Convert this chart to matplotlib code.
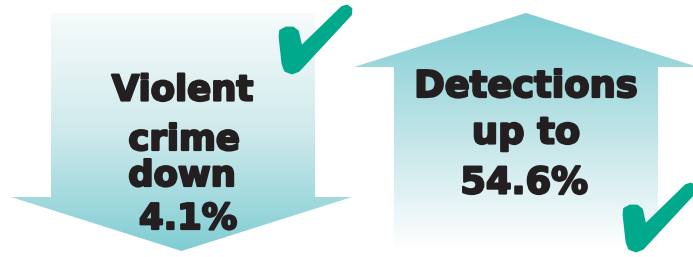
import numpy as np
import matplotlib.pyplot as plt
import matplotlib.patheffects as pe
from matplotlib.patches import Polygon
from matplotlib.colors import LinearSegmentedColormap

# figures shown on the two arrows
directions = ['down', 'up']
changes = [4.1, 54.6]
left_lines = ['Violent', 'crime', 'down', '4.1%']
right_lines = ['Detections', 'up to', '54.6%']

teal = '#7fcdd3'
light = '#f7fbfb'
check_col = '#00a98c'
txt_col = '#231f20'

fig = plt.figure(figsize=(6.93, 2.57), dpi=100)
ax = fig.add_axes([0, 0, 1, 1])
ax.set_xlim(0, 693)
ax.set_ylim(257, 0)
ax.axis('off')

cmap_down = LinearSegmentedColormap.from_list('d', [light, '#cfeaec', teal])
cmap_up = LinearSegmentedColormap.from_list('u', [teal, '#bfe4e7', '#ffffff'])


def arrow(x0, x1, hx0, hx1, ytop, ybase, ytip, cmap, up=False):
    xc = (hx0 + hx1) / 2.0
    if not up:
        pts = [(x0, ytop), (x1, ytop), (x1, ybase), (hx1, ybase), (xc, ytip),
               (hx0, ybase), (x0, ybase)]
        y_lo, y_hi = ytop, ytip
    else:
        pts = [(xc, ytip), (hx1, ybase), (x1, ybase), (x1, ytop), (x0, ytop),
               (x0, ybase), (hx0, ybase)]
        y_lo, y_hi = ytip, ytop
    poly = Polygon(pts, closed=True, facecolor='none', edgecolor='none')
    ax.add_patch(poly)
    grad = np.linspace(0, 1, 256).reshape(-1, 1)
    im = ax.imshow(grad, cmap=cmap, aspect='auto',
                   extent=(hx0, hx1, y_hi, y_lo), zorder=1)
    im.set_clip_path(poly)


arrow(51, 315, 11, 352, 13, 197, 251, cmap_down)
arrow(394, 658, 354, 698, 250, 67, 13, cmap_up, up=True)
ax.set_xlim(0, 693)
ax.set_ylim(257, 0)

# check mark outline (local pixel units)
check = np.array([(280.5, 31), (286, 28), (293, 28), (297.5, 31.5), (300.5, 45),
                  (302, 46.5), (342, 7.5), (347, 6), (351, 9), (350.5, 14.5),
                  (298.5, 70.5), (292, 73), (285.5, 70.5), (283, 64), (280, 37)])
for dx, dy in [(0, 0), (344, 178)]:
    ax.add_patch(Polygon(check + [dx, dy], closed=True, facecolor=check_col,
                         edgecolor=check_col, linewidth=2, joinstyle='round',
                         zorder=3))

kw = dict(ha='center', va='baseline', fontweight='bold', color=txt_col,
          family='DejaVu Sans', zorder=4,
          path_effects=[pe.withStroke(linewidth=1.6, foreground=txt_col)])
for s, x, y in zip(left_lines, [182.5, 184, 182, 188], [100.5, 150, 186, 229]):
    ax.text(x, y, s, fontsize=25.5, **kw)
for s, x, y in zip(right_lines, [526, 526, 524], [97, 143.5, 193.5]):
    ax.text(x, y, s, fontsize=26.5, **kw)

fig.savefig('out.png', dpi=100)
